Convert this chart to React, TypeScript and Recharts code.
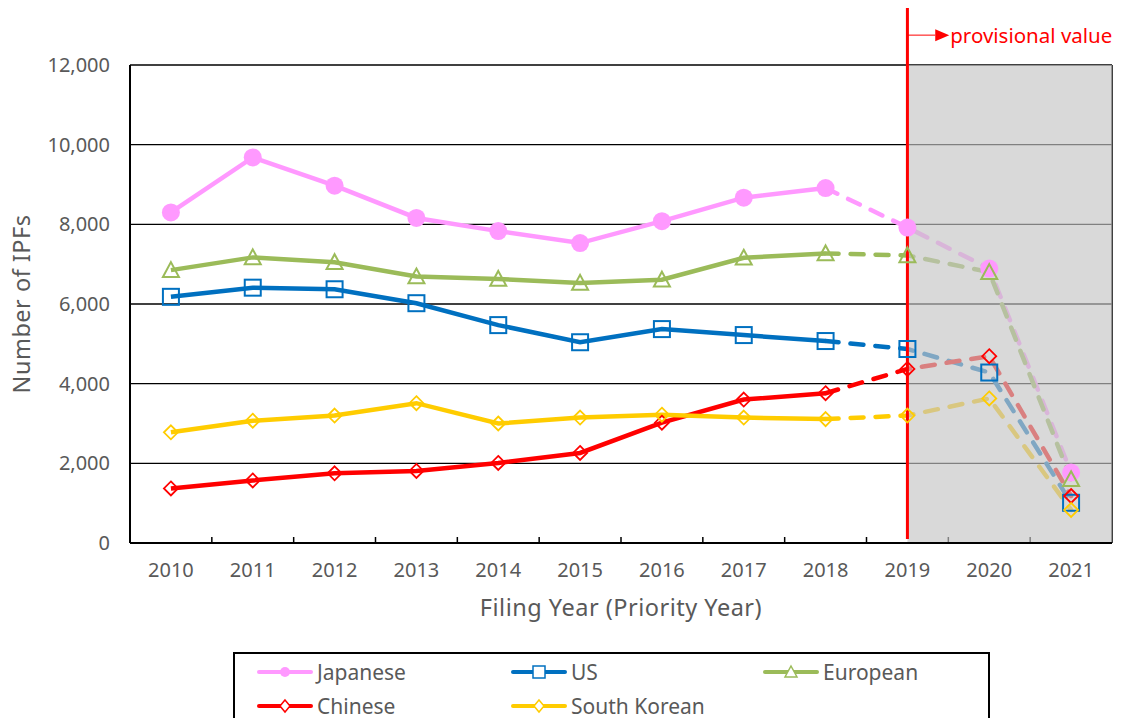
import React from "react";
import {
  LineChart,
  Line,
  XAxis,
  YAxis,
  CartesianGrid,
  ReferenceArea,
  ReferenceLine,
  Legend,
} from "recharts";

// filing years shown on the axis
const years = [2010, 2011, 2012, 2013, 2014, 2015, 2016, 2017, 2018, 2019, 2020, 2021];

// number of IPFs per applicant nationality
const japanese = [8300, 9680, 8970, 8160, 7830, 7530, 8080, 8670, 8910, 7920, 6890, 1770];
const us = [6180, 6410, 6370, 6020, 5470, 5040, 5370, 5220, 5070, 4870, 4280, 1010];
const european = [6850, 7170, 7050, 6690, 6630, 6530, 6610, 7160, 7270, 7220, 6800, 1600];
const chinese = [1370, 1570, 1750, 1810, 2010, 2260, 3020, 3600, 3760, 4370, 4690, 1180];
const southKorean = [2780, 3070, 3200, 3510, 3000, 3150, 3220, 3150, 3110, 3200, 3630, 830];

const yTicks = [0, 2000, 4000, 6000, 8000, 10000, 12000];

// last year with final figures; later years are provisional
const lastFinal = 2018;
const provisionalFrom = 2019;

type Marker = "circle" | "square" | "triangle" | "diamond";

const SERIES: { key: string; name: string; color: string; marker: Marker; values: number[] }[] = [
  { key: "jp", name: "Japanese", color: "#FF99FF", marker: "circle", values: japanese },
  { key: "us", name: "US", color: "#0070C0", marker: "square", values: us },
  { key: "eu", name: "European", color: "#9BBB59", marker: "triangle", values: european },
  { key: "cn", name: "Chinese", color: "#FF0000", marker: "diamond", values: chinese },
  { key: "kr", name: "South Korean", color: "#FFCC00", marker: "diamond", values: southKorean },
];

const data = years.map((year, i) => {
  const row: Record<string, number | null> = { year };
  SERIES.forEach((s) => {
    row[s.key] = year <= lastFinal ? s.values[i] : null;
    row[s.key + "P"] = year >= lastFinal ? s.values[i] : null;
  });
  return row;
});

const boundaries = years.slice(0, -1).map((y) => y + 0.5);

const FONT = "'Noto Sans', sans-serif";
const TEXT = "#595959";

function markerShape(marker: Marker, color: string, cx: number, cy: number, size: number) {
  switch (marker) {
    case "circle":
      return <circle cx={cx} cy={cy} r={size} fill={color} />;
    case "square":
      return (
        <rect
          x={cx - size}
          y={cy - size}
          width={size * 2}
          height={size * 2}
          fill="none"
          stroke={color}
          strokeWidth={2}
        />
      );
    case "triangle":
      return (
        <polygon
          points={`${cx},${cy - size} ${cx + size},${cy + size * 0.85} ${cx - size},${cy + size * 0.85}`}
          fill="none"
          stroke={color}
          strokeWidth={2}
        />
      );
    default:
      return (
        <polygon
          points={`${cx},${cy - size} ${cx + size},${cy} ${cx},${cy + size} ${cx - size},${cy}`}
          fill="none"
          stroke={color}
          strokeWidth={1.8}
        />
      );
  }
}

const DOT_SIZE: Record<Marker, number> = { circle: 9, square: 8, triangle: 8, diamond: 7 };

function makeDot(marker: Marker, color: string, provisional: boolean) {
  return (props: any) => {
    const { cx, cy, payload, index } = props;
    const k = `${color}-${provisional ? "p" : "f"}-${index}`;
    if (cx == null || cy == null || payload == null) return <g key={k} />;
    if (provisional && payload.year < provisionalFrom) return <g key={k} />;
    return <g key={k}>{markerShape(marker, color, cx, cy, DOT_SIZE[marker])}</g>;
  };
}

function LegendBox() {
  const cols = [24, 278, 530];
  const rows = [18, 52];
  return (
    <div
      style={{
        position: "relative",
        width: 757,
        height: 80,
        border: "2px solid #000",
        boxSizing: "border-box",
        background: "#fff",
        fontFamily: FONT,
      }}
    >
      {SERIES.map((s, i) => (
        <div
          key={s.key}
          style={{
            position: "absolute",
            left: cols[i % 3] - 2,
            top: rows[Math.floor(i / 3)] - 14,
            height: 28,
            display: "flex",
            alignItems: "center",
            whiteSpace: "nowrap",
          }}
        >
          <svg width={56} height={20}>
            <line x1={2} y1={10} x2={54} y2={10} stroke={s.color} strokeWidth={4} strokeLinecap="round" />
            {s.marker === "circle"
              ? markerShape(s.marker, s.color, 28, 10, 5)
              : s.marker === "diamond"
              ? (
                <polygon points="28,4 33,10 28,16 23,10" fill="#fff" stroke={s.color} strokeWidth={1.5} />
              )
              : s.marker === "square"
              ? <rect x={22} y={4} width={12} height={12} fill="#fff" stroke={s.color} strokeWidth={1.5} />
              : <polygon points="28,4 34,15 22,15" fill="#fff" stroke={s.color} strokeWidth={1.5} />}
          </svg>
          <span style={{ marginLeft: 4, fontSize: 21, color: TEXT }}>{s.name}</span>
        </div>
      ))}
    </div>
  );
}

function ProvisionalArrow(props: any) {
  const { viewBox } = props;
  if (!viewBox) return null;
  const ex = viewBox.x + viewBox.width;
  const y = viewBox.y + viewBox.height / 2;
  return (
    <g>
      <polygon points={`${ex},${y - 6} ${ex + 14},${y} ${ex},${y + 6}`} fill="#FF0000" />
      <text
        x={ex + 15}
        y={y}
        dominantBaseline="central"
        fontSize={20.5}
        fill="#FF0000"
        fontFamily={FONT}
      >
        provisional value
      </text>
    </g>
  );
}

export default function App() {
  return (
    <div style={{ position: "absolute", left: 0, top: 0, background: "#fff" }}>
      <LineChart
        width={1122}
        height={718}
        data={data}
        margin={{ top: 65, right: 10, bottom: 75, left: 0 }}
        style={{ fontFamily: FONT }}
      >
        <CartesianGrid vertical={false} stroke="#000" strokeWidth={1.3} />
        <XAxis
          dataKey="year"
          type="number"
          domain={[2009.5, 2021.5]}
          ticks={years}
          interval={0}
          height={100}
          tickLine={false}
          tickMargin={14}
          axisLine={{ stroke: "#000", strokeWidth: 2 }}
          tick={{ fontSize: 20, fill: TEXT }}
          label={{
            content: ({ viewBox }: any) => (
              <text
                x={viewBox.x + viewBox.width / 2}
                y={viewBox.y + 64}
                textAnchor="middle"
                dominantBaseline="central"
                fontSize={23.5}
                letterSpacing={0.5}
                fill={TEXT}
                fontFamily={FONT}
              >
                Filing Year (Priority Year)
              </text>
            ),
          }}
        />
        <YAxis
          domain={[0, 12000]}
          ticks={yTicks}
          width={130}
          tickLine={false}
          tickMargin={14}
          axisLine={{ stroke: "#000", strokeWidth: 2 }}
          tick={{ fontSize: 20, fill: TEXT }}
          tickFormatter={(v: number) => v.toLocaleString("en-US")}
          label={{
            content: ({ viewBox }: any) => {
              const x = viewBox.x + 21;
              const y = viewBox.y + viewBox.height / 2;
              return (
                <text
                  x={x}
                  y={y}
                  transform={`rotate(-90 ${x} ${y})`}
                  textAnchor="middle"
                  dominantBaseline="central"
                  fontSize={23.5}
                  letterSpacing={0.5}
                  fill={TEXT}
                  fontFamily={FONT}
                >
                  Number of IPFs
                </text>
              );
            },
          }}
        />
        {boundaries.map((b) => (
          <ReferenceLine
            key={b}
            segment={[
              { x: b, y: 0 },
              { x: b, y: 150 },
            ]}
            stroke="#000"
            strokeWidth={1.5}
          />
        ))}
        <ReferenceLine x={2021.5} stroke="#000" strokeWidth={1.5} ifOverflow="visible" />
        {SERIES.map((s) => (
          <Line
            key={s.key}
            dataKey={s.key}
            name={s.name}
            stroke={s.color}
            strokeWidth={4.5}
            dot={makeDot(s.marker, s.color, false)}
            activeDot={false}
            isAnimationActive={false}
          />
        ))}
        {SERIES.map((s) => (
          <Line
            key={s.key + "P"}
            dataKey={s.key + "P"}
            legendType="none"
            stroke={s.color}
            strokeWidth={4.5}
            strokeDasharray="13 12"
            strokeLinecap="round"
            dot={makeDot(s.marker, s.color, true)}
            activeDot={false}
            isAnimationActive={false}
          />
        ))}
        <ReferenceArea
          x1={provisionalFrom}
          x2={2021.5}
          y1={0}
          y2={12000}
          fill="#c5c5c5"
          fillOpacity={0.65}
          stroke="none"
          {...({ zIndex: 450 } as any)}
        />
        <ReferenceLine
          segment={[
            { x: provisionalFrom, y: 100 },
            { x: provisionalFrom, y: 13430 },
          ]}
          stroke="#FF0000"
          strokeWidth={3}
          ifOverflow="visible"
          {...({ zIndex: 600 } as any)}
        />
        <ReferenceLine
          segment={[
            { x: provisionalFrom, y: 12750 },
            { x: 2019.34, y: 12750 },
          ]}
          stroke="#FF0000"
          strokeWidth={1}
          ifOverflow="visible"
          label={{ content: ProvisionalArrow }}
          {...({ zIndex: 600 } as any)}
        />
        <Legend
          layout="horizontal"
          verticalAlign="middle"
          align="center"
          content={() => <LegendBox />}
          wrapperStyle={{ left: 233, top: 652, width: 757, height: 80 }}
        />
      </LineChart>
    </div>
  );
}
